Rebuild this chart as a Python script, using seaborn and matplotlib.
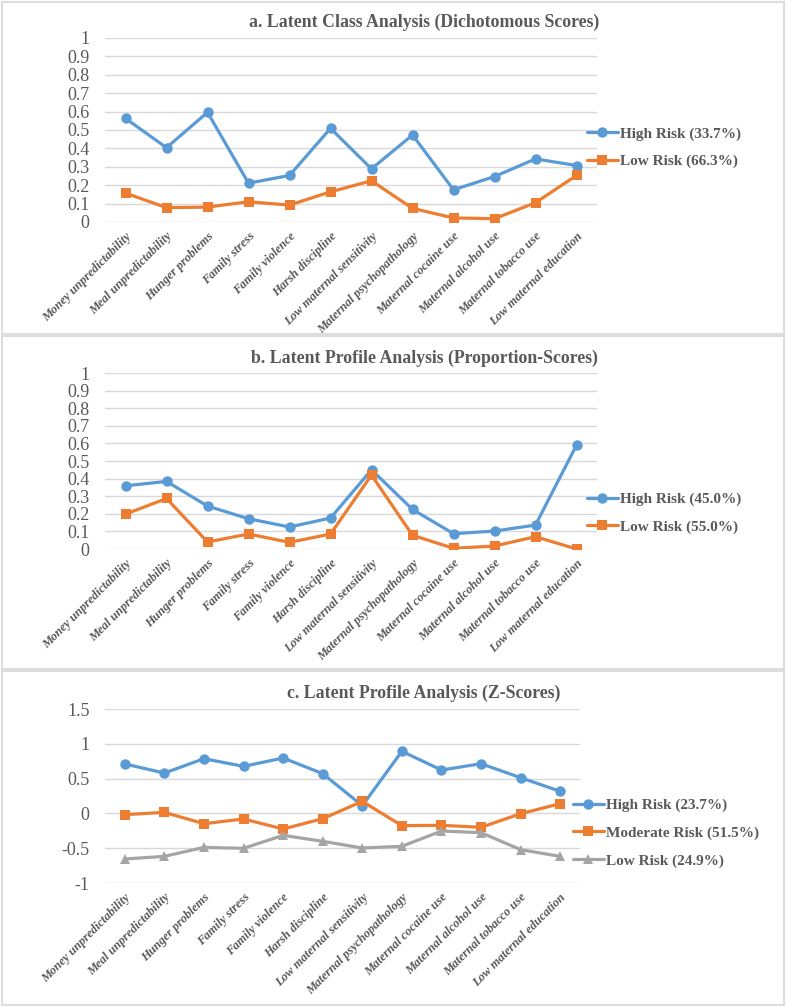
"""
Latent class / profile plots of early-life risk factors (three stacked panels).
"""

import numpy as np
import pandas as pd
import matplotlib.pyplot as plt
from matplotlib.patches import Rectangle
import seaborn as sns

# ── Data ───────────────────────────────────────────────────────────────────────
risk_factors = [
    "Money unpredictability", "Meal unpredictability", "Hunger problems",
    "Family stress", "Family violence", "Harsh discipline",
    "Low maternal sensitivity", "Maternal psychopathology",
    "Maternal cocaine use", "Maternal alcohol use", "Maternal tobacco use",
    "Low maternal education",
]

# a. latent class analysis (dichotomous scores)
lca_labels = ["High Risk (33.7%)", "Low Risk (66.3%)"]
lca_high = [0.563, 0.404, 0.596, 0.211, 0.253, 0.509, 0.289, 0.473, 0.175, 0.247, 0.343, 0.307]
lca_low  = [0.157, 0.078, 0.081, 0.110, 0.092, 0.164, 0.224, 0.074, 0.022, 0.018, 0.105, 0.253]

# b. latent profile analysis (proportion scores)
lpa_prop_labels = ["High Risk (45.0%)", "Low Risk (55.0%)"]
lpa_prop_high = [0.359, 0.384, 0.244, 0.172, 0.125, 0.176, 0.450, 0.225, 0.087, 0.102, 0.136, 0.590]
lpa_prop_low  = [0.198, 0.287, 0.040, 0.085, 0.038, 0.085, 0.420, 0.078, 0.004, 0.017, 0.070, 0.000]

# c. latent profile analysis (z-scores)
lpa_z_labels = ["High Risk (23.7%)", "Moderate Risk (51.5%)", "Low Risk (24.9%)"]
lpa_z_high = [0.710, 0.580, 0.786, 0.676, 0.796, 0.571, 0.111, 0.892, 0.623, 0.714, 0.513, 0.317]
lpa_z_mod  = [-0.018, 0.015, -0.148, -0.080, -0.224, -0.076, 0.173, -0.176, -0.171, -0.200, -0.004, 0.140]
lpa_z_low  = [-0.655, -0.617, -0.488, -0.502, -0.315, -0.401, -0.497, -0.473, -0.253, -0.277, -0.521, -0.617]

# ── Style ──────────────────────────────────────────────────────────────────────
W, H = 786, 1007
sns.set_style("white")
plt.rcParams["font.family"] = ["Liberation Serif", "DejaVu Serif"]
plt.rcParams["axes.unicode_minus"] = False

TEXT = "#595959"
GRID = "#D9D9D9"
COLORS = ["#5B9BD5", "#ED7D31", "#A5A5A5"]
MARKERS = ["o", "s", "^"]

fig = plt.figure(figsize=(W / 100, H / 100), dpi=100)


def px_axes(left, top, right, bottom):
    return fig.add_axes([left / W, 1 - bottom / H, (right - left) / W, (bottom - top) / H])


def draw_panel(box, plot, title, title_y, series, labels, yticks, legend_at):
    # panel frame
    x0, y0, x1, y1 = box
    fig.patches.append(Rectangle((x0 / W, 1 - y1 / H), (x1 - x0) / W, (y1 - y0) / H,
                                 transform=fig.transFigure, fill=False, ec="#DDDDDD", lw=1.5))
    fig.text(424 / W, 1 - title_y / H, title, ha="center", va="center",
             fontsize=12.8, weight="bold", color=TEXT)

    ax = px_axes(*plot)
    df = pd.concat([
        pd.DataFrame({"x": np.arange(len(risk_factors)), "y": vals, "cls": lab})
        for vals, lab in zip(series, labels)
    ])
    k = len(labels)
    sns.lineplot(data=df, x="x", y="y", hue="cls", style="cls",
                 palette=COLORS[:k], markers=MARKERS[:k], dashes=False,
                 lw=2.3, markersize=7.5, markeredgewidth=0, ax=ax)

    ax.set_xlim(-0.5, len(risk_factors) - 0.5)
    ax.set_ylim(yticks[0], yticks[-1])
    ax.set_yticks(yticks)
    ax.set_yticklabels([f"{v:g}" for v in yticks])
    ax.set_xticks(np.arange(len(risk_factors)))
    ax.set_xticklabels(risk_factors, rotation=45, ha="right", rotation_mode="anchor",
                       fontsize=9, weight="bold", style="italic", color=TEXT)
    ax.tick_params(axis="y", length=0, pad=11, labelsize=13, labelcolor=TEXT)
    ax.tick_params(axis="x", length=0, pad=6)
    ax.set_xlabel("")
    ax.set_ylabel("")
    ax.yaxis.grid(True, color=GRID, lw=1)
    ax.xaxis.grid(False)
    for s in ax.spines.values():
        s.set_visible(False)

    lx, ly = legend_at
    sns.move_legend(ax, "center left", bbox_to_anchor=(lx / W, 1 - ly / H),
                    bbox_transform=fig.transFigure, frameon=False, title=None,
                    prop={"weight": "bold", "size": 11}, handlelength=2.0,
                    handletextpad=0.15, labelspacing=0.9, borderpad=0, borderaxespad=0)
    for t in ax.get_legend().get_texts():
        t.set_color(TEXT)
    return ax


draw_panel((2, 2, 784, 334), (105, 38, 597, 222),
           "a. Latent Class Analysis (Dichotomous Scores)", 22,
           [lca_high, lca_low], lca_labels,
           np.round(np.arange(0, 1.01, 0.1), 1), (587, 147.5))

draw_panel((2, 336, 784, 669), (105, 373, 597, 549),
           "b. Latent Profile Analysis (Proportion-Scores)", 358,
           [lpa_prop_high, lpa_prop_low], lpa_prop_labels,
           np.round(np.arange(0, 1.01, 0.1), 1), (587, 513))

draw_panel((2, 671, 784, 1005), (105, 709, 580, 883),
           "c. Latent Profile Analysis (Z-Scores)", 693,
           [lpa_z_high, lpa_z_mod, lpa_z_low], lpa_z_labels,
           np.arange(-1, 1.51, 0.5), (573, 833))

plt.savefig("out.png", dpi=100)
plt.close()
